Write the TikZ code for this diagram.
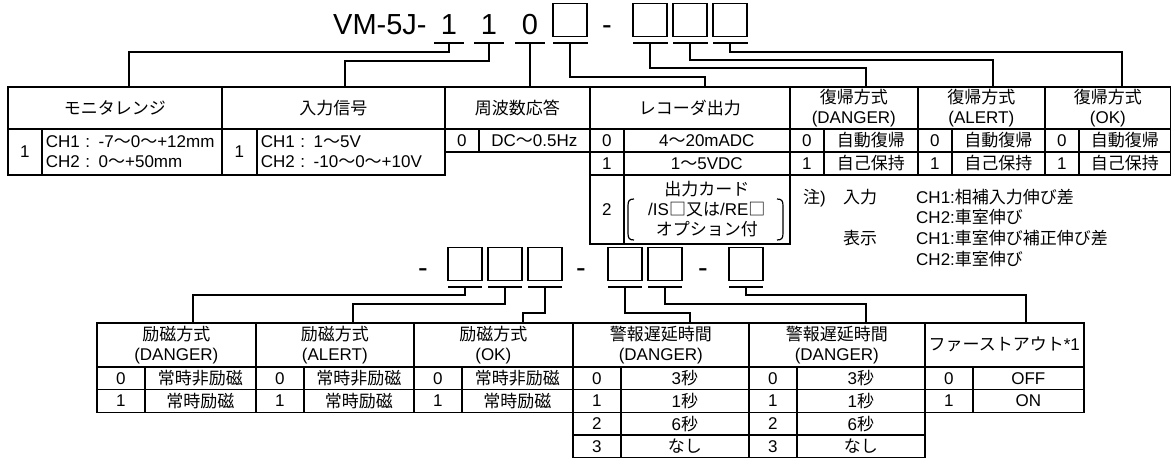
\documentclass[tikz,border=0pt]{standalone}
\usepackage{fontspec}
\setmainfont{Liberation Sans}
\newfontfamily\jp{Noto Sans CJK JP}

\tikzstyle{cell} = [draw=black,line width=1.6pt,rectangle,inner sep=0pt,anchor=north west,align=center,font=\fontsize{17}{20}\selectfont]
\tikzstyle{note} = [anchor=base west,inner sep=0pt,font=\fontsize{17}{20}\selectfont]
\tikzstyle{codetext} = [anchor=base,inner sep=0pt,font=\fontsize{29}{29}\selectfont]
\tikzstyle{slot} = [draw=black,line width=1.4pt,rectangle,minimum width=34pt,minimum height=33pt,inner sep=0pt]
\tikzstyle{underbar} = [fill=black,rectangle,minimum height=1.4pt,inner sep=0pt]
\tikzstyle{wire} = [draw=black,line width=1.1pt]
\tikzstyle{paren} = [draw=black,line width=1.2pt]

\begin{document}
\begin{tikzpicture}[x=1pt,y=-1pt]
	\useasboundingbox (0,0) rectangle (1171,458);
	% upper code
	\node (model) [codetext,anchor=base west] at (333,34) {VM-5J-};
	\node (c1) [codetext] at (449,34) {1};
	\node (c2) [codetext] at (489,34) {1};
	\node (c3) [codetext] at (530,34) {0};
	\node (s1) [slot] at (570,20) {};
	\node (m1) [codetext] at (607,34) {-};
	\node (s2) [slot] at (650,20) {};
	\node (s3) [slot] at (690,20) {};
	\node (s4) [slot] at (730,20) {};
	\node (u1) [underbar,minimum width=30] at (449,43) {};
	\node (u2) [underbar,minimum width=30] at (489,43) {};
	\node (u3) [underbar,minimum width=30] at (530,43) {};
	\node (u4) [underbar,minimum width=35] at (570,43) {};
	\node (u5) [underbar,minimum width=35] at (650,43) {};
	\node (u6) [underbar,minimum width=35] at (690,43) {};
	\node (u7) [underbar,minimum width=35] at (730,43) {};

	% upper table
	\node (monh) [cell,minimum width=214,minimum height=42] at (7,86) {\jp モニタレンジ};
	\node (mon1) [cell,minimum width=34,minimum height=46] at (7,128) {1};
	\node (mont) [cell,text width=172,inner xsep=4,minimum height=46,align=left] at (41,128) {CH1 : -7{\jp ～}0{\jp ～}+12mm\\CH2 : 0{\jp ～}+50mm};
	\node (inph) [cell,minimum width=223,minimum height=42] at (221,86) {\jp 入力信号};
	\node (inp1) [cell,minimum width=35,minimum height=46] at (221,128) {1};
	\node (inpt) [cell,text width=180,inner xsep=4,minimum height=46,align=left] at (256,128) {CH1 : 1{\jp ～}5V\\CH2 : -10{\jp ～}0{\jp ～}+10V};
	\node (frqh) [cell,minimum width=145,minimum height=42] at (444,86) {\jp 周波数応答};
	\node (frq0) [cell,minimum width=34,minimum height=23] at (444,128) {0};
	\node (frqt) [cell,minimum width=111,minimum height=23] at (478,128) {DC{\jp ～}0.5Hz};
	\node (rech) [cell,minimum width=200,minimum height=42] at (589,86) {\jp レコーダ出力};
	\node (rec0) [cell,minimum width=34,minimum height=23] at (589,128) {0};
	\node (rect0) [cell,minimum width=166,minimum height=23] at (623,128) {4{\jp ～}20mADC};
	\node (rec1) [cell,minimum width=34,minimum height=23] at (589,151) {1};
	\node (rect1) [cell,minimum width=166,minimum height=23] at (623,151) {1{\jp ～}5VDC};
	\node (rec2) [cell,minimum width=34,minimum height=69] at (589,174) {2};
	\node (rect2) [cell,minimum width=166,minimum height=69] at (623,174) {{\jp 出力カード}\\/IS{\jp □又は}/RE{\jp □}\\{\jp オプション付}};
	\draw [paren] (634,199) .. controls (629,199) and (628,201) .. (628,206) -- (628,233) .. controls (628,238) and (629,240) .. (634,240);
	\draw [paren] (777,199) .. controls (782,199) and (783,201) .. (783,206) -- (783,233) .. controls (783,238) and (782,240) .. (777,240);
	\foreach \i/\x/\w/\t in {1/789/128/DANGER,2/917/127/ALERT,3/1044/126/OK} {
		\node (reth\i) [cell,minimum width=\w,minimum height=42] at (\x,86) {{\jp 復帰方式}\\(\t)};
		\node (retn0\i) [cell,minimum width=34,minimum height=23] at (\x,128) {0};
		\node (rett0\i) [cell,minimum width=\w-34,minimum height=23] at (\x+34,128) {\jp 自動復帰};
		\node (retn1\i) [cell,minimum width=34,minimum height=23] at (\x,151) {1};
		\node (rett1\i) [cell,minimum width=\w-34,minimum height=23] at (\x+34,151) {\jp 自己保持};
	}

	\coordinate (t1) at (129,86);
	\coordinate (t2) at (345,86);
	\coordinate (t3) at (530,86);
	\coordinate (t4) at (705,86);
	\coordinate (t5) at (866,86);
	\coordinate (t6) at (993,86);
	\coordinate (t7) at (1122,86);
	\draw [wire] (u1) -- ++(0,9) -| (t1);
	\draw [wire] (u2) -- ++(0,18) -| (t2);
	\draw [wire] (u3) -- (t3);
	\draw [wire] (u4) -- ++(0,34) -| (t4);
	\draw [wire] (u5) -- ++(0,25) -| (t5);
	\draw [wire] (u6) -- ++(0,17) -| (t6);
	\draw [wire] (u7) -- ++(0,9) -| (t7);

	% notes
	\node (n0) [note] at (803,203) {{\jp 注})};
	\node (n1) [note] at (843,203) {\jp 入力};
	\node (n2) [note] at (916,203) {CH1:{\jp 相補入力伸び差}};
	\node (n3) [note] at (916,223) {CH2:{\jp 車室伸び}};
	\node (n4) [note] at (843,244) {\jp 表示};
	\node (n5) [note] at (916,244) {CH1:{\jp 車室伸び補正伸び差}};
	\node (n6) [note] at (916,265) {CH2:{\jp 車室伸び}};

	% lower code
	\node (m2) [codetext] at (423,277) {-};
	\node (s5) [slot] at (465,264) {};
	\node (s6) [slot] at (505,264) {};
	\node (s7) [slot] at (545,264) {};
	\node (m3) [codetext] at (581,277) {-};
	\node (s8) [slot] at (625,264) {};
	\node (s9) [slot] at (665,264) {};
	\node (m4) [codetext] at (703,277) {-};
	\node (s10) [slot] at (746,264) {};
	\node (e1) [underbar,minimum width=34] at (465,287) {};
	\node (e2) [underbar,minimum width=34] at (505,287) {};
	\node (e3) [underbar,minimum width=34] at (545,287) {};
	\node (e4) [underbar,minimum width=34] at (625,287) {};
	\node (e5) [underbar,minimum width=34] at (665,287) {};
	\node (e6) [underbar,minimum width=34] at (746,287) {};

	% lower table
	\foreach \i/\x/\w/\t in {1/96/159/DANGER,2/255/158/ALERT,3/413/159/OK} {
		\node (exch\i) [cell,minimum width=\w,minimum height=44] at (\x,322) {{\jp 励磁方式}\\(\t)};
		\node (excn0\i) [cell,minimum width=48,minimum height=22.75] at (\x,366) {0};
		\node (exct0\i) [cell,minimum width=\w-48,minimum height=22.75] at (\x+48,366) {\jp 常時非励磁};
		\node (excn1\i) [cell,minimum width=48,minimum height=22.75] at (\x,388.75) {1};
		\node (exct1\i) [cell,minimum width=\w-48,minimum height=22.75] at (\x+48,388.75) {\jp 常時励磁};
	}
	\foreach \i/\x in {1/572,2/748} {
		\node (dlyh\i) [cell,minimum width=176,minimum height=44] at (\x,322) {{\jp 警報遅延時間}\\(DANGER)};
		\foreach \r/\v in {0/3{\jp 秒},1/1{\jp 秒},2/6{\jp 秒},3/{\jp なし}} {
			\node (dlyn\r\i) [cell,minimum width=48,minimum height=22.75] at (\x,366+\r*22.75) {\r};
			\node (dlyt\r\i) [cell,minimum width=128,minimum height=22.75] at (\x+48,366+\r*22.75) {\v};
		}
	}
	\node (fsth) [cell,minimum width=159,minimum height=44] at (924,322) {{\jp ファーストアウト}*1};
	\node (fstn0) [cell,minimum width=48,minimum height=22.75] at (924,366) {0};
	\node (fstt0) [cell,minimum width=111,minimum height=22.75] at (972,366) {OFF};
	\node (fstn1) [cell,minimum width=48,minimum height=22.75] at (924,388.75) {1};
	\node (fstt1) [cell,minimum width=111,minimum height=22.75] at (972,388.75) {ON};

	\coordinate (b1) at (193,322);
	\coordinate (b2) at (353,322);
	\coordinate (b3) at (523,322);
	\coordinate (b4) at (690,322);
	\coordinate (b5) at (866,322);
	\coordinate (b6) at (1026,322);
	\draw [wire] (e1) -- ++(0,8) -| (b1);
	\draw [wire] (e2) -- ++(0,17) -| (b2);
	\draw [wire] (e3) -- ++(0,26) -| (b3);
	\draw [wire] (e4) -- ++(0,26) -| (b4);
	\draw [wire] (e5) -- ++(0,17) -| (b5);
	\draw [wire] (e6) -- ++(0,8) -| (b6);
\end{tikzpicture}
\end{document}
